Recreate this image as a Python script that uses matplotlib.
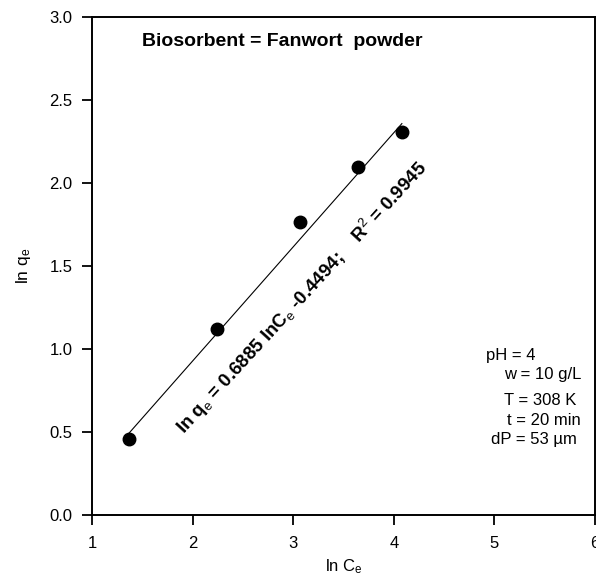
import numpy as np
import matplotlib
matplotlib.use("Agg")
import matplotlib.pyplot as plt

plt.rcParams['font.family'] = ['Liberation Sans', 'DejaVu Sans']
plt.rcParams['mathtext.fontset'] = 'custom'
plt.rcParams['mathtext.rm'] = 'Liberation Sans'
plt.rcParams['mathtext.it'] = 'Liberation Sans'
plt.rcParams['mathtext.bf'] = 'Liberation Sans:bold'

# Freundlich isotherm, linear form
ln_ce = [1.37, 2.24, 3.07, 3.64, 4.08]
ln_qe = [0.46, 1.12, 1.765, 2.10, 2.31]
slope = 0.6885
intercept = -0.4494
r2 = 0.9945

conditions = ["pH = 4", "w = 10 g/L", "T = 308 K", "t = 20 min", "dP = 53 \u00b5m"]

fig = plt.figure(figsize=(5.96, 5.81), dpi=100)
ax = fig.add_axes([0.1544, 0.114, 0.844, 0.856])

xfit = np.array([ln_ce[0], ln_ce[-1]])
ax.plot(xfit, slope * xfit + intercept, color='black', lw=0.8)
ax.plot(ln_ce, ln_qe, 'o', color='black', markersize=9)

ax.set_xlim(1, 6)
ax.set_ylim(0, 3.0)
ax.set_xticks([1, 2, 3, 4, 5, 6])
ax.set_yticks([0.0, 0.5, 1.0, 1.5, 2.0, 2.5, 3.0])
ax.set_yticklabels(["0.0", "0.5", "1.0", "1.5", "2.0", "2.5", "3.0"])
ax.tick_params(direction='out', length=7, width=1.3, labelsize=12)
ax.tick_params(axis='x', pad=8)
ax.tick_params(axis='y', pad=7)
for s in ax.spines.values():
    s.set_linewidth(1.4)

ax.set_xlabel("ln C$_e$", fontsize=12, labelpad=5)
ax.set_ylabel("ln q$_e$", fontsize=12.5, labelpad=12)

ax.text(1.50, 2.852, "Biosorbent = Fanwort  powder", fontsize=14, fontweight='bold',
        va='center', ha='left')

eq = "ln q$_e$ = %.4f lnC$_e$ %.4f;    R$^2$ = %.4f" % (slope, intercept, r2)
ax.text(3.09, 1.31, eq, fontsize=13.5, fontweight='bold', rotation=47.5,
        rotation_mode='anchor', ha='center', va='center')

cond_x = [5.41, 5.86, 5.81, 5.86, 5.82]
cond_y = [0.96, 0.847, 0.69, 0.57, 0.455]
for label, cx, cy in zip(conditions, cond_x, cond_y):
    ax.text(cx, cy, label, fontsize=12, ha='right', va='center')

fig.savefig("out.png", dpi=100)
